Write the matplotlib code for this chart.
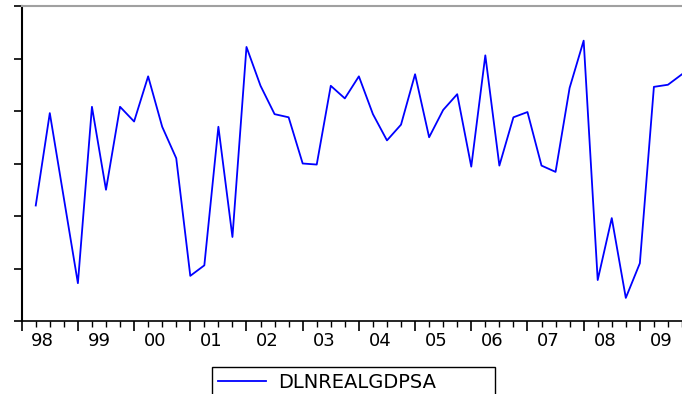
import matplotlib
matplotlib.use("Agg")
from matplotlib import pyplot as plt

# quarterly growth of real GDP (log diff, %), 1998Q2 .. 2009Q4
quarters = list(range(1, 48))
dlnrealgdpsa = [0.60, 1.48, 0.67, -0.14, 1.54, 0.75, 1.54,
                1.40, 1.83, 1.35, 1.05,
                -0.07, 0.03, 1.35, 0.30,
                2.11, 1.74, 1.47, 1.44,
                1.00, 0.99, 1.74, 1.62,
                1.83, 1.47, 1.22, 1.37,
                1.85, 1.25, 1.51, 1.66,
                0.97, 2.03, 0.98, 1.44,
                1.49, 0.98, 0.92, 1.72,
                2.17, -0.11, 0.48, -0.28,
                0.05, 1.73, 1.75, 1.85]
years = ["98", "99", "00", "01", "02", "03", "04", "05", "06", "07", "08", "09"]

plt.rcParams['font.family'] = ['DejaVu Sans']

fig = plt.figure(figsize=(6.82, 3.94), dpi=100)
ax = fig.add_axes([21.7 / 682, 1 - 321 / 394, 1 - 21.7 / 682, 315 / 394])

ax.plot(quarters, dlnrealgdpsa, color="#0000ff", lw=1.3, label="DLNREALGDPSA")

ax.set_xlim(0, 46.6)
ax.set_ylim(-0.5, 2.5)

# year boundaries = long ticks, quarters = short ticks
ax.set_xticks(range(0, 48, 4))
ax.set_xticklabels([])
ax.set_xticks([q for q in range(1, 48) if q % 4 != 0], minor=True)
ax.tick_params(axis="x", which="major", direction="out", length=7, width=1.2)
ax.tick_params(axis="x", which="minor", direction="out", length=4, width=1.0)

# year labels sit a bit left of mid-year, like the EViews original
for k, yr in enumerate(years):
    ax.text(4 * k + 1.5, -0.035, yr, transform=ax.get_xaxis_transform(),
            ha="center", va="top", fontsize=13)

ax.set_yticks([-0.5, 0, 0.5, 1.0, 1.5, 2.0, 2.5])
ax.set_yticklabels([])
ax.tick_params(axis="y", direction="out", length=6, width=1.2)

ax.spines["right"].set_visible(False)
ax.spines["top"].set_color("#a0a0a0")
ax.spines["top"].set_linewidth(1.5)
ax.spines["left"].set_linewidth(1.5)
ax.spines["bottom"].set_linewidth(1.2)

leg = fig.legend(loc="upper left", bbox_to_anchor=(202 / 682, 1 - 357 / 394, 303 / 682, 0.0),
                 mode="expand", fontsize=14, handlelength=2.5, handletextpad=0.6,
                 fancybox=False, edgecolor="black", framealpha=1, borderpad=0.3)
leg.get_frame().set_linewidth(1.0)

fig.savefig("out.png", dpi=100)
